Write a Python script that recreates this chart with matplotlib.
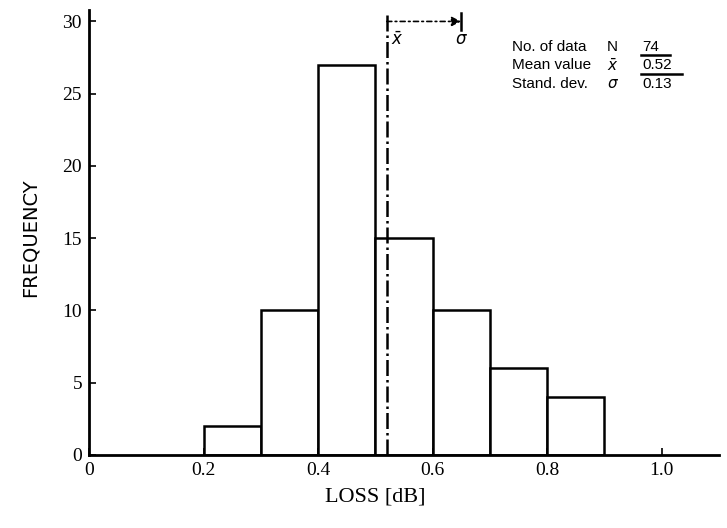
import matplotlib
matplotlib.use('Agg')
import matplotlib.pyplot as plt
from matplotlib.lines import Line2D

# histogram of loss values
bin_edges = [0.2, 0.3, 0.4, 0.5, 0.6, 0.7, 0.8, 0.9]
counts = [2, 10, 27, 15, 10, 6, 4]
n_data = 74
mean_val = 0.52
std_val = 0.13

x_ticks = [0.0, 0.2, 0.4, 0.6, 0.8, 1.0]
x_ticklabels = ['0', '0.2', '0.4', '0.6', '0.8', '1.0']
y_ticks = [0, 5, 10, 15, 20, 25, 30]

serif = ['Liberation Serif', 'DejaVu Serif']
sans = ['Liberation Sans', 'DejaVu Sans']

fig = plt.figure(figsize=(7.27, 5.28), dpi=100)
ax = fig.add_axes([0.1224, 0.1383, 0.8666, 0.843])

lefts = bin_edges[:-1]
widths = [b - a for a, b in zip(bin_edges[:-1], bin_edges[1:])]
ax.bar(lefts, counts, width=widths, align='edge', facecolor='white',
       edgecolor='black', linewidth=1.8)

# mean line
ax.plot([mean_val, mean_val], [0, 30.5], color='black', linestyle='-.',
        linewidth=1.8)
# sigma arrow
ax.annotate('', xy=(mean_val + std_val, 30.0), xytext=(mean_val, 30.0),
            arrowprops=dict(arrowstyle='-|>', linestyle=(0, (3, 2, 1, 2)),
                            color='black', linewidth=1.2, mutation_scale=14,
                            shrinkA=0, shrinkB=0))
ax.plot([mean_val + std_val, mean_val + std_val], [29.4, 30.6], color='black',
        linewidth=1.8)
ax.text(mean_val + 0.008, 28.7, r'$\bar{x}$', fontsize=12, ha='left', va='center')
ax.text(mean_val + std_val, 28.8, r'$\sigma$', fontsize=12, ha='center', va='center')

ax.set_xlim(0, 1.1)
ax.set_ylim(0, 30.8)
ax.set_xticks(x_ticks)
ax.set_xticklabels(x_ticklabels, family=serif, fontsize=14)
ax.set_yticks(y_ticks)
ax.set_yticklabels([str(v) for v in y_ticks], family=serif, fontsize=14)
ax.tick_params(direction='in', length=5, width=1.2, pad=5)
for s in ['top', 'right']:
    ax.spines[s].set_visible(False)
for s in ['left', 'bottom']:
    ax.spines[s].set_linewidth(2.0)

ax.set_ylabel('FREQUENCY', family=['DejaVu Sans'], fontsize=14)
ax.yaxis.set_label_coords(-0.094, 0.488)
ax.yaxis.label.set_va('center')
ax.set_xlabel('LOSS [dB]', family=serif, fontsize=16)
ax.xaxis.set_label_coords(0.4545, -0.094)
ax.xaxis.label.set_va('center')

# info block
rows = [('No. of data', 'N', str(n_data)),
        ('Mean value', r'$\bar{x}$', '%.2f' % mean_val),
        ('Stand. dev.', r'$\sigma$', '%.2f' % std_val)]
ys = [0.911, 0.876, 0.841]
for (lab, sym, val), y in zip(rows, ys):
    fig.text(0.704, y, lab, family=sans, fontsize=11, va='center')
    fig.text(0.835, y, sym, family=sans, fontsize=11, va='center')
    fig.text(0.884, y, val, family=sans, fontsize=11, va='center')
for y, x1 in zip(ys[:2], [0.922, 0.938]):
    fig.add_artist(Line2D([0.882, x1], [y - 0.0155, y - 0.0155],
                          color='black', linewidth=1.8))

fig.savefig('out.png', dpi=100)
